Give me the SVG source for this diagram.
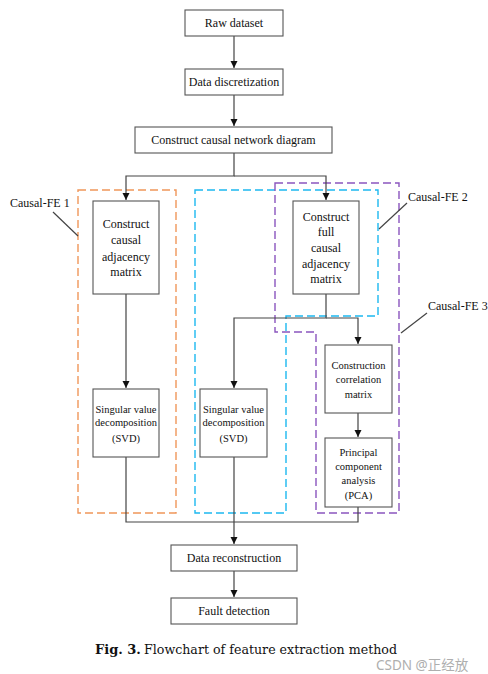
<svg xmlns="http://www.w3.org/2000/svg" width="488" height="674" viewBox="0 0 488 674">
<style>
.box{fill:#fff;stroke:#555;stroke-width:1.1}
.t{font-family:"Liberation Serif","Times New Roman",serif;font-size:12px;fill:#111;text-anchor:middle}
.s{font-size:10.5px}
.ln{fill:none;stroke:#444;stroke-width:1.2}
.lab{font-family:"Liberation Serif","Times New Roman",serif;font-size:12px;fill:#111}
.dash{fill:none;stroke-width:1.4;stroke-dasharray:8 4}
</style>
<defs>
<marker id="ah" markerWidth="8" markerHeight="8" refX="7" refY="4" orient="auto" markerUnits="userSpaceOnUse">
<path d="M0,0.5 L7,4 L0,7.5 Z" fill="#111"/>
</marker>
</defs>
<rect width="488" height="674" fill="#fff"/>
<g id="regions">
<path class="dash" stroke="#F0965A" d="M78,190 H176 V513 H78 Z"/>
<path class="dash" stroke="#1DB8F0" d="M195,190 H378 V316 H286 V513 H195 Z"/>
<path class="dash" stroke="#8A55BE" d="M275,183 H399 V513 H316 V332 H275 Z"/>
</g>
<g id="connectors">
<path class="ln" d="M234,36 V68" marker-end="url(#ah)"/>
<path class="ln" d="M234,95 V126" marker-end="url(#ah)"/>
<path class="ln" d="M234,153 V176 H126 V200" marker-end="url(#ah)"/>
<path class="ln" d="M234,176 H326 V200" marker-end="url(#ah)"/>
<path class="ln" d="M126,294 V388" marker-end="url(#ah)"/>
<path class="ln" d="M326,294 V318 H234 V388" marker-end="url(#ah)"/>
<path class="ln" d="M326,318 H358 V344" marker-end="url(#ah)"/>
<path class="ln" d="M358,413 V437" marker-end="url(#ah)"/>
<path class="ln" d="M126,457 V522 H358 V507"/>
<path class="ln" d="M234,457 V544" marker-end="url(#ah)"/>
<path class="ln" d="M234,571 V597" marker-end="url(#ah)"/>
<path class="ln" stroke-width="1" d="M53,212 L78,236"/>
<path class="ln" stroke-width="1" d="M407,203 L379,229"/>
<path class="ln" stroke-width="1" d="M427,313 L401,333"/>
</g>
<g id="raw"><rect class="box" x="185" y="10" width="98" height="26"/><text class="t" x="234" y="27">Raw dataset</text></g>
<g id="disc"><rect class="box" x="185" y="69" width="98" height="26"/><text class="t" x="234" y="86">Data discretization</text></g>
<g id="ccnd"><rect class="box" x="135" y="127" width="197" height="26"/><text class="t" x="233.5" y="144">Construct causal network diagram</text></g>
<g id="ccam"><rect class="box" x="93" y="201" width="66" height="93"/>
<text class="t" x="126" y="228">Construct</text><text class="t" x="126" y="244">causal</text><text class="t" x="126" y="261">adjacency</text><text class="t" x="126" y="276">matrix</text></g>
<g id="cfcam"><rect class="box" x="293" y="201" width="66" height="93"/>
<text class="t" x="326" y="221">Construct</text><text class="t" x="326" y="236">full</text><text class="t" x="326" y="252">causal</text><text class="t" x="326" y="268">adjacency</text><text class="t" x="326" y="283">matrix</text></g>
<g id="svd1"><rect class="box" x="93" y="389" width="66" height="68"/>
<text class="t s" x="126" y="413">Singular value</text><text class="t s" x="126" y="426">decomposition</text><text class="t s" x="126" y="442">(SVD)</text></g>
<g id="svd2"><rect class="box" x="200" y="389" width="67" height="68"/>
<text class="t s" x="233.5" y="413">Singular value</text><text class="t s" x="233.5" y="426">decomposition</text><text class="t s" x="233.5" y="442">(SVD)</text></g>
<g id="ccm"><rect class="box" x="325" y="345" width="67" height="68"/>
<text class="t s" x="358.5" y="369">Construction</text><text class="t s" x="358.5" y="383">correlation</text><text class="t s" x="358.5" y="398">matrix</text></g>
<g id="pca"><rect class="box" x="325" y="438" width="67" height="69"/>
<text class="t s" x="358.5" y="456">Principal</text><text class="t s" x="358.5" y="470">component</text><text class="t s" x="358.5" y="484">analysis</text><text class="t s" x="358.5" y="499">(PCA)</text></g>
<g id="recon"><rect class="box" x="171" y="545" width="126" height="26"/><text class="t" x="234" y="562">Data reconstruction</text></g>
<g id="fault"><rect class="box" x="171" y="598" width="126" height="26"/><text class="t" x="234" y="615">Fault detection</text></g>
<g id="labels">
<text class="lab" x="10" y="207">Causal-FE 1</text>
<text class="lab" x="408" y="201">Causal-FE 2</text>
<text class="lab" x="428" y="310">Causal-FE 3</text>
</g>
<g id="caption">
<text x="95" y="654" style="font-family:'DejaVu Serif','Liberation Serif',serif;font-size:13px;fill:#111"><tspan font-weight="bold">Fig. 3.</tspan><tspan x="144" textLength="253" lengthAdjust="spacingAndGlyphs">Flowchart of feature extraction method</tspan></text>
<text x="376" y="670" style="font-family:'Noto Sans','Noto Sans CJK SC',sans-serif;font-size:13.5px;fill:#9a9a9a;opacity:0.8">CSDN @正经放</text>
</g>
</svg>
